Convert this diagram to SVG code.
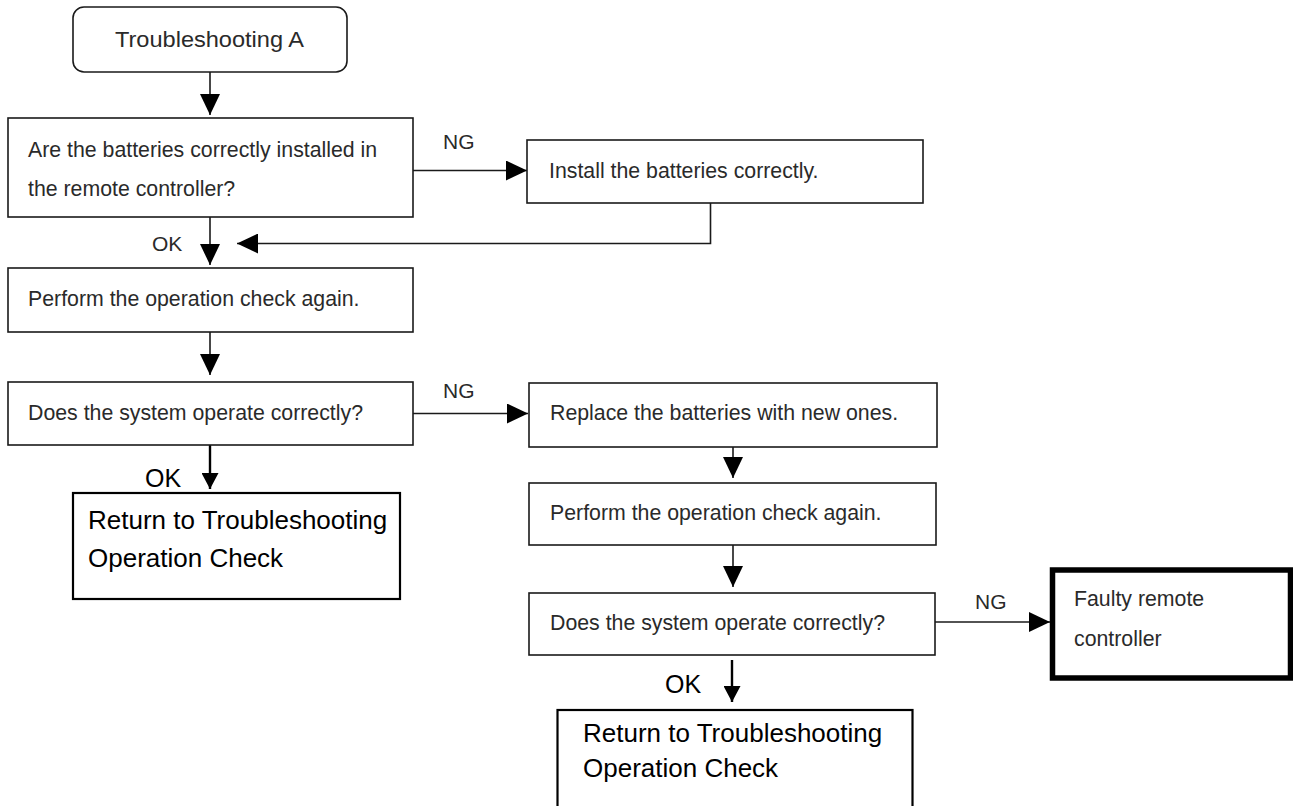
<svg xmlns="http://www.w3.org/2000/svg" width="1293" height="806" viewBox="0 0 1293 806">
<style>
.bg{fill:#ffffff}
.box{fill:#ffffff;stroke:#1a1a1a;stroke-width:1.6}
.bold{fill:#ffffff;stroke:#000000;stroke-width:2.2}
.heavy{fill:#ffffff;stroke:#000000;stroke-width:5.5}
.t{font-family:"Liberation Sans",Arial,sans-serif;font-size:21.3px;fill:#2a2a2a}
.tb{font-family:"Liberation Sans",Arial,sans-serif;font-size:26px;fill:#000000}
.lbl{font-family:"Liberation Sans",Arial,sans-serif;font-size:21px;fill:#2a2a2a}
.lblb{font-family:"Liberation Sans",Arial,sans-serif;font-size:25px;fill:#000000}
.c{fill:none;stroke:#1a1a1a;stroke-width:1.6}
.c2{fill:none;stroke:#000000;stroke-width:2.4}
</style>
<defs>
<marker id="ah" markerUnits="userSpaceOnUse" markerWidth="21" markerHeight="20" refX="21" refY="10" orient="auto" viewBox="0 0 21 20">
<path d="M0,0 L21,10 L0,20 Z" fill="#000000"/>
</marker>
<marker id="ahs" markerUnits="userSpaceOnUse" markerWidth="16" markerHeight="17" refX="16" refY="8.5" orient="auto" viewBox="0 0 16 17">
<path d="M0,0 L16,8.5 L0,17 Z" fill="#000000"/>
</marker>
</defs>
<rect class="bg" x="0" y="0" width="1293" height="806"/>

<g id="connectors">
<path class="c" d="M210,72 V115" marker-end="url(#ah)"/>
<path class="c" d="M413,170.5 H527" marker-end="url(#ah)"/>
<path class="c" d="M710.5,203 V243.5 H237" marker-end="url(#ah)"/>
<path class="c" d="M210,217 V265" marker-end="url(#ah)"/>
<path class="c" d="M210,332 V375" marker-end="url(#ah)"/>
<path class="c" d="M413,413.5 H528" marker-end="url(#ah)"/>
<path class="c2" d="M210,445 V489" marker-end="url(#ahs)"/>
<path class="c" d="M733,447 V478" marker-end="url(#ah)"/>
<path class="c" d="M733,545 V587" marker-end="url(#ah)"/>
<path class="c" d="M935,622 H1050" marker-end="url(#ah)"/>
<path class="c2" d="M732,660 V702" marker-end="url(#ahs)"/>
</g>

<g id="labels">
<text class="lbl" x="443" y="149">NG</text>
<text class="lbl" x="152" y="251">OK</text>
<text class="lbl" x="443" y="398">NG</text>
<text class="lblb" x="145" y="487">OK</text>
<text class="lbl" x="975" y="609">NG</text>
<text class="lblb" x="665" y="693">OK</text>
</g>

<g id="start">
<rect class="box" x="73" y="7" width="274" height="65" rx="11" ry="11"/>
<text class="t" x="115" y="47" font-size="22" textLength="189" lengthAdjust="spacingAndGlyphs">Troubleshooting A</text>
</g>

<g id="q-batteries">
<rect class="box" x="8" y="118" width="405" height="99"/>
<text class="t" x="28" y="157">Are the batteries correctly installed in</text>
<text class="t" x="28" y="196">the remote controller?</text>
</g>

<g id="install">
<rect class="box" x="527" y="140" width="396" height="63"/>
<text class="t" x="549" y="178">Install the batteries correctly.</text>
</g>

<g id="check1">
<rect class="box" x="8" y="268" width="405" height="64"/>
<text class="t" x="28" y="306">Perform the operation check again.</text>
</g>

<g id="q-operate1">
<rect class="box" x="8" y="382" width="405" height="63"/>
<text class="t" x="28" y="420">Does the system operate correctly?</text>
</g>

<g id="return1">
<rect class="bold" x="73" y="493" width="327" height="106"/>
<text class="tb" x="88" y="529">Return to Troubleshooting</text>
<text class="tb" x="88" y="567">Operation Check</text>
</g>

<g id="replace">
<rect class="box" x="529" y="383" width="408" height="64"/>
<text class="t" x="550" y="420">Replace the batteries with new ones.</text>
</g>

<g id="check2">
<rect class="box" x="529" y="483" width="407" height="62"/>
<text class="t" x="550" y="520">Perform the operation check again.</text>
</g>

<g id="q-operate2">
<rect class="box" x="529" y="593" width="406" height="62"/>
<text class="t" x="550" y="630">Does the system operate correctly?</text>
</g>

<g id="faulty">
<rect class="heavy" x="1052.5" y="570" width="238" height="108"/>
<text class="t" x="1074" y="606">Faulty remote</text>
<text class="t" x="1074" y="646">controller</text>
</g>

<g id="return2">
<rect class="bold" x="557.5" y="710" width="355" height="110"/>
<text class="tb" x="583" y="742">Return to Troubleshooting</text>
<text class="tb" x="583" y="777">Operation Check</text>
</g>
</svg>
